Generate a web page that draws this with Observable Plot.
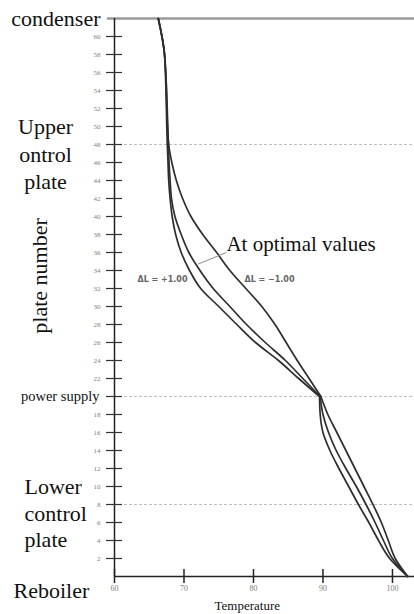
<!DOCTYPE html>
<html>
<head>
<meta charset="utf-8">
<script src="https://cdn.jsdelivr.net/npm/d3@7"></script>
<script src="https://cdn.jsdelivr.net/npm/@observablehq/plot@0.6"></script>
<style>
  html, body { margin: 0; padding: 0; background: #fff; }
</style>
</head>
<body>
<div id="chart"></div>
<script>
// ---- data ----
const upperPlates = [62, 58, 48, 46, 44, 42, 40, 38, 36, 34, 32, 30, 28, 26, 24, 22, 20];
const lowerPlates = [20, 18, 16, 14, 12, 10, 8, 6, 4, 2, 0];

const seriesNames = ["ΔL = +1.00", "At optimal values", "ΔL = −1.00"];

const plusUpper    = [66.3, 67.2, 67.6, 67.7, 67.8, 68.0, 68.3, 68.8, 69.6, 70.8, 72.4, 75.0, 77.6, 80.3, 83.6, 86.5, 89.5];
const optimalUpper = [66.3, 67.2, 67.75, 67.85, 68.0, 68.2, 68.7, 69.6, 70.7, 72.3, 74.2, 76.6, 79.0, 81.7, 84.6, 87.1, 89.6];
const minusUpper   = [66.3, 67.2, 67.8, 68.25, 68.9, 69.8, 71.0, 72.7, 74.7, 76.6, 78.9, 81.2, 83.1, 84.7, 86.3, 88.0, 89.7];

const plusLower    = [89.5, 89.6, 90.0, 91.0, 92.3, 93.7, 95.1, 96.6, 98.0, 99.6, 102.2];
const optimalLower = [89.6, 90.0, 90.8, 91.9, 93.3, 94.8, 96.2, 97.5, 98.7, 100.0, 102.2];
const minusLower   = [89.7, 90.7, 92.0, 93.3, 94.6, 95.9, 97.2, 98.4, 99.4, 100.4, 102.2];

const yTickPlates = d3.range(2, 61, 2);
const yTickLabels = yTickPlates.filter(d => d !== 20);
const xTicks = [60, 70, 80, 90, 100];
const controlPlates = [48, 20, 8];
const condenserPlate = 62;
const feedPlate = 20;

// ---- build table ----
const rows = [];
function addRows(name, section, plates, temps) {
  plates.forEach((p, i) => rows.push({series: name, key: name + "|" + section, plate: p, temp: temps[i]}));
}
addRows(seriesNames[0], "upper", upperPlates, plusUpper);
addRows(seriesNames[1], "upper", upperPlates, optimalUpper);
addRows(seriesNames[2], "upper", upperPlates, minusUpper);
addRows(seriesNames[0], "lower", lowerPlates, plusLower);
addRows(seriesNames[1], "lower", lowerPlates, optimalLower);
addRows(seriesNames[2], "lower", lowerPlates, minusLower);

const serif = "'Liberation Serif', 'DejaVu Serif', serif";
const bigFont = 22;

const chart = Plot.plot({
  width: 414,
  height: 614,
  marginTop: 18,
  marginBottom: 38,
  marginLeft: 114,
  marginRight: 0,
  style: {fontFamily: serif, background: "#fff", overflow: "visible"},
  x: {domain: [60, 103.17]},
  y: {domain: [0, 62]},
  marks: [
    // control plate / feed guides
    Plot.ruleY(controlPlates, {stroke: "#bdbdbd", strokeDasharray: "3,2", strokeWidth: 1}),
    // condenser
    Plot.ruleY([condenserPlate], {stroke: "#9a9a9a", strokeWidth: 2.5, insetLeft: -7}),
    // axes lines
    Plot.ruleY([0], {stroke: "#222", strokeWidth: 1.5}),
    Plot.ruleX([60], {stroke: "#222", strokeWidth: 1.5}),
    // y ticks (crossing the axis)
    Plot.axisY(yTickPlates, {anchor: "left", tickSize: 16, dx: 8, fill: "none", stroke: "#333", strokeWidth: 1.2, label: null}),
    Plot.axisY(yTickLabels, {anchor: "left", tickSize: 0, tickPadding: 14, stroke: "none", fill: "#808080", fontSize: 7, label: null, tickFormat: d => d}),
    // x ticks
    Plot.axisX(xTicks, {anchor: "bottom", tickSize: 14, dy: -7, fill: "none", stroke: "#222", strokeWidth: 1.5, label: null}),
    Plot.axisX(xTicks, {anchor: "bottom", tickSize: 0, tickPadding: 9, stroke: "none", fill: "#808080", fontSize: 8, label: null, tickFormat: d => d}),
    // curves
    Plot.line(rows, {x: "temp", y: "plate", z: "key", curve: "monotone-y", stroke: "#2e2e2e", strokeWidth: 1.7}),
    // left-side labels
    Plot.text(["condenser"], {frameAnchor: "left", y: condenserPlate, dx: -14, textAnchor: "end", lineAnchor: "middle", fontSize: bigFont, fill: "#111"}),
    Plot.text(["Upper"], {frameAnchor: "left", y: 49.2, dx: -69, textAnchor: "middle", lineAnchor: "bottom", fontSize: bigFont, fill: "#111"}),
    Plot.text(["ontrol"], {frameAnchor: "left", y: 46.1, dx: -69, textAnchor: "middle", lineAnchor: "bottom", fontSize: bigFont, fill: "#111"}),
    Plot.text(["plate"], {frameAnchor: "left", y: 43.1, dx: -69, textAnchor: "middle", lineAnchor: "bottom", fontSize: bigFont, fill: "#111"}),
    Plot.text(["plate number"], {frameAnchor: "left", y: 33.4, dx: -75, rotate: -90, textAnchor: "middle", lineAnchor: "middle", fontSize: bigFont, fill: "#111"}),
    Plot.text(["power supply"], {frameAnchor: "left", y: feedPlate, dx: -15, textAnchor: "end", lineAnchor: "middle", fontSize: 14.5, fill: "#111"}),
    Plot.text(["Lower"], {frameAnchor: "left", y: 9.2, dx: -90, textAnchor: "start", lineAnchor: "bottom", fontSize: bigFont, fill: "#111"}),
    Plot.text(["control"], {frameAnchor: "left", y: 6.2, dx: -90, textAnchor: "start", lineAnchor: "bottom", fontSize: bigFont, fill: "#111"}),
    Plot.text(["plate"], {frameAnchor: "left", y: 3.3, dx: -90, textAnchor: "start", lineAnchor: "bottom", fontSize: bigFont, fill: "#111"}),
    Plot.text(["Reboiler"], {frameAnchor: "left", y: -2.4, dx: -101, textAnchor: "start", lineAnchor: "bottom", fontSize: bigFont, fill: "#111"}),
    // x axis title
    Plot.text(["Temperature"], {x: 79.1, y: -3.3, textAnchor: "middle", lineAnchor: "middle", fontSize: 13, fill: "#111"}),
    // annotations
    Plot.link([0], {x1: 76.1, y1: 36.0, x2: 72.0, y2: 34.7, stroke: "#888", strokeWidth: 1}),
    Plot.text([seriesNames[1]], {x: 76.1, y: 36.2, textAnchor: "start", lineAnchor: "bottom", fontSize: 21, fill: "#111"}),
    Plot.text([seriesNames[0]], {x: 66.9, y: 33.0, textAnchor: "middle", lineAnchor: "middle", fontSize: 8, fontWeight: "bold", fill: "#666", fontFamily: "'DejaVu Sans', sans-serif"}),
    Plot.text([seriesNames[2]], {x: 82.3, y: 33.0, textAnchor: "middle", lineAnchor: "middle", fontSize: 8, fontWeight: "bold", fill: "#666", fontFamily: "'DejaVu Sans', sans-serif"})
  ]
});

document.getElementById("chart").appendChild(chart);
</script>
</body>
</html>
